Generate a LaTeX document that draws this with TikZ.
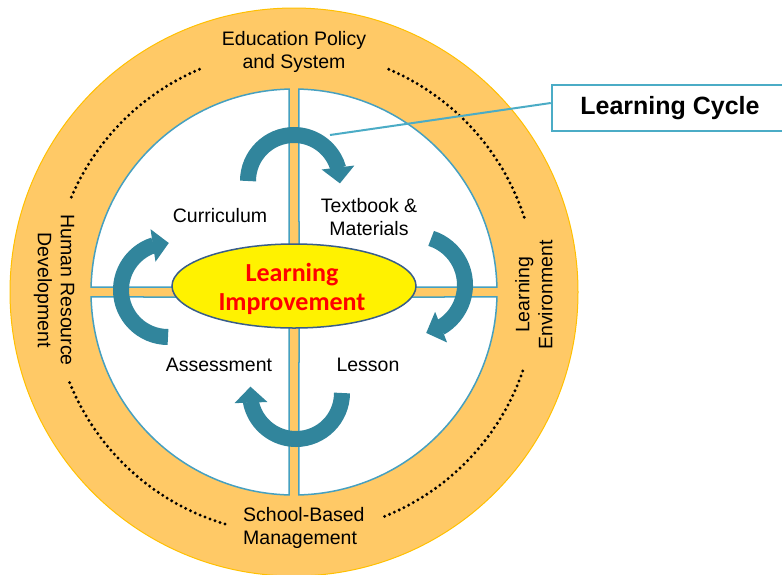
\documentclass[tikz,border=0pt]{standalone}
\usepackage{fontspec}
\setmainfont{Liberation Sans}
\newfontfamily\calib{Carlito}
\usetikzlibrary{arrows.meta, bending, shapes.geometric}

\definecolor{ringc}{HTML}{FFC966}
\definecolor{ringedge}{HTML}{FFC000}
\definecolor{quadc}{HTML}{46A0C0}
\definecolor{boxc}{HTML}{4BACC6}
\definecolor{arrowc}{HTML}{31859C}
\definecolor{ellc}{HTML}{385D8A}

\tikzset{
  quad/.style = {fill = white, draw = quadc, line width = 1.5pt},
  cyc/.style = {draw = arrowc, line width = 16pt,
                -{Triangle[width = 32pt, length = 16pt]}},
  dots/.style = {line width = 3.3pt, dash pattern = on 0pt off 5.3pt,
                 line cap = round},
  lbl/.style = {font = \fontsize{19.5}{23}\selectfont, align = center,
                inner sep = 0pt}
}

\begin{document}
\begin{tikzpicture}[x = 1pt, y = 1pt]
\useasboundingbox (0, 0) rectangle (782, -574);
\clip (0, 0) rectangle (782, -574);
\coordinate (O) at (294, -292);

\filldraw [fill = ringc, draw = ringedge, line width = 1pt] (O) circle [radius = 284];

\draw [quad] (299, -287) -- ([shift = {(O)}] 88.59:203)
      arc [start angle = 88.59, end angle = 1.41, radius = 203] -- cycle;
\draw [quad] (289, -287) -- ([shift = {(O)}] 91.41:203)
      arc [start angle = 91.41, end angle = 178.59, radius = 203] -- cycle;
\draw [quad] (289, -297) -- ([shift = {(O)}] 181.41:203)
      arc [start angle = 181.41, end angle = 268.59, radius = 203] -- cycle;
\draw [quad] (299, -297) -- ([shift = {(O)}] 271.41:203)
      arc [start angle = 271.41, end angle = 358.59, radius = 203] -- cycle;

\draw [dots] ([shift = {(O)}] 18:242) arc [start angle = 18, end angle = 67, radius = 242];
\draw [dots] ([shift = {(O)}] 113:242) arc [start angle = 113, end angle = 158, radius = 242];
\draw [dots] ([shift = {(O)}] 202:242) arc [start angle = 202, end angle = 254, radius = 242];
\draw [dots] ([shift = {(O)}] 292:242) arc [start angle = 292, end angle = 341, radius = 242];

\node [ellipse, fill = yellow, draw = ellc, line width = 1.5pt,
       minimum width = 244pt, minimum height = 84pt, inner sep = 0pt]
       (improve) at (294, -286) {};
\node [text = red, align = center, inner sep = 0pt,
       font = \calib\bfseries\fontsize{26}{28.5}\selectfont]
       (improvetext) at (292, -289) {Learning\\Improvement};

\draw [cyc] ([shift = {(294, -181)}] 180:46) arc [start angle = 180, end angle = -3, radius = 46];
\draw [cyc] ([shift = {(416, -285)}] 72:49) arc [start angle = 72, end angle = -78, radius = 49];
\draw [cyc] ([shift = {(296, -393)}] 0:46) arc [start angle = 0, end angle = -188, radius = 46];
\draw [cyc] ([shift = {(168, -290)}] 270:47) arc [start angle = 270, end angle = 89, radius = 47];

\node [lbl] (curric) at (220, -216) {Curriculum};
\node [lbl] (textbook) at (369, -217) {Textbook \&\\Materials};
\node [lbl] (assess) at (219, -365) {Assessment};
\node [lbl] (lesson) at (368, -365) {Lesson};

\node [lbl] (policy) at (294, -52) {Education Policy\\and System};
\node [lbl, align = left, anchor = west] (school) at (243, -528) {School-Based\\Management};
\node [lbl, rotate = -90] (human) at (54, -290) {Human Resource\\Development};
\node [lbl, rotate = 90] (environ) at (534, -295) {Learning\\Environment};

\node [draw = boxc, line width = 2.5pt, minimum width = 236pt, minimum height = 46pt,
       inner sep = 0pt, font = \bfseries\fontsize{25}{30}\selectfont]
       (cycle) at (670, -108) {Learning Cycle};
\coordinate (cyctip) at (330, -135);
\draw [boxc, line width = 2pt] ([yshift = 5pt] cycle.west) -- (cyctip);
\end{tikzpicture}
\end{document}
